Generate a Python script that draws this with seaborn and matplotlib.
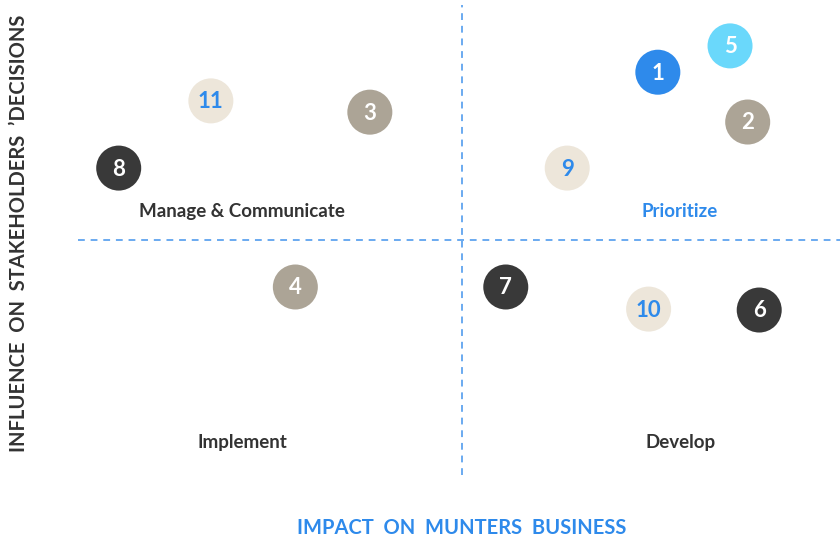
import matplotlib
matplotlib.use("Agg")
import matplotlib.pyplot as plt
import pandas as pd
import seaborn as sns

# Datos de los stakeholders (impacto en x, influencia en y, escala 0-10)
ids = ["1", "2", "3", "4", "5", "6", "7", "8", "9", "10", "11"]
impact = [7.55, 8.72, 3.80, 2.83, 8.49, 8.87, 5.57, 0.53, 6.37, 7.43, 1.73]
influence = [8.57, 7.51, 7.72, 4.00, 9.13, 3.51, 4.00, 6.53, 6.53, 3.53, 7.96]
grupo = ["azul", "gris", "gris", "gris", "cian", "oscuro", "oscuro", "oscuro",
         "beige", "beige", "beige"]

cuadrantes = ["Manage & Communicate", "Prioritize", "Implement", "Develop"]
cuad_x = [2.14, 7.84, 2.14, 7.84]
cuad_y = [5.60, 5.60, 0.70, 0.70]

df = pd.DataFrame({"id": ids, "impact": impact, "influence": influence, "grupo": grupo})

colores = {"azul": "#2E8AEB", "gris": "#ACA496", "cian": "#6AD8FB",
           "oscuro": "#393939", "beige": "#EDE6DA"}
color_texto = {"azul": "white", "gris": "white", "cian": "white",
               "oscuro": "white", "beige": "#2E8AEB"}

sns.set_theme(style="white")
plt.rcParams['font.family'] = ['Lato', 'DejaVu Sans']

fig = plt.figure(figsize=(8.4, 5.39), dpi=100)
ax = fig.add_axes([78 / 840, 1 - 475 / 539, 768 / 840, 470 / 539])

sns.scatterplot(data=df, x="impact", y="influence", hue="grupo", palette=colores,
                s=1050, linewidth=0, legend=False, ax=ax, zorder=3)

for i, row in df.iterrows():
    ax.text(row["impact"], row["influence"] - 0.02, row["id"], ha="center", va="center",
            color=color_texto[row["grupo"]], fontsize=16, fontweight="bold", zorder=4)

azul_linea = "#6AAAF0"
ax.axvline(5, color=azul_linea, lw=1.4, ls=(0, (3.5, 3)), zorder=1)
ax.axhline(5, color=azul_linea, lw=1.4, ls=(0, (3.5, 3)), zorder=1)

for nombre, cx, cy in zip(cuadrantes, cuad_x, cuad_y):
    c = "#2E8AEB" if nombre == "Prioritize" else "#333333"
    ax.text(cx, cy, nombre, ha="center", va="center", fontsize=13.5, fontweight="bold", color=c)

ax.set_xlim(0, 10)
ax.set_ylim(0, 10)
ax.set_xticks([])
ax.set_yticks([])
ax.set_xlabel("")
ax.set_ylabel("")
sns.despine(ax=ax, left=True, bottom=True)

fig.text(462 / 840, 1 - 528 / 539, "IMPACT  ON  MUNTERS  BUSINESS", ha="center", va="center",
         color="#2E8AEB", fontsize=14.5, fontweight="bold")
fig.text(19 / 840, 1 - 233 / 539, "INFLUENCE  ON  STAKEHOLDERS  \u2019DECISIONS", ha="center",
         va="center", rotation=90, color="#333333", fontsize=14.5, fontweight="bold")

fig.savefig("out.png", dpi=100)
